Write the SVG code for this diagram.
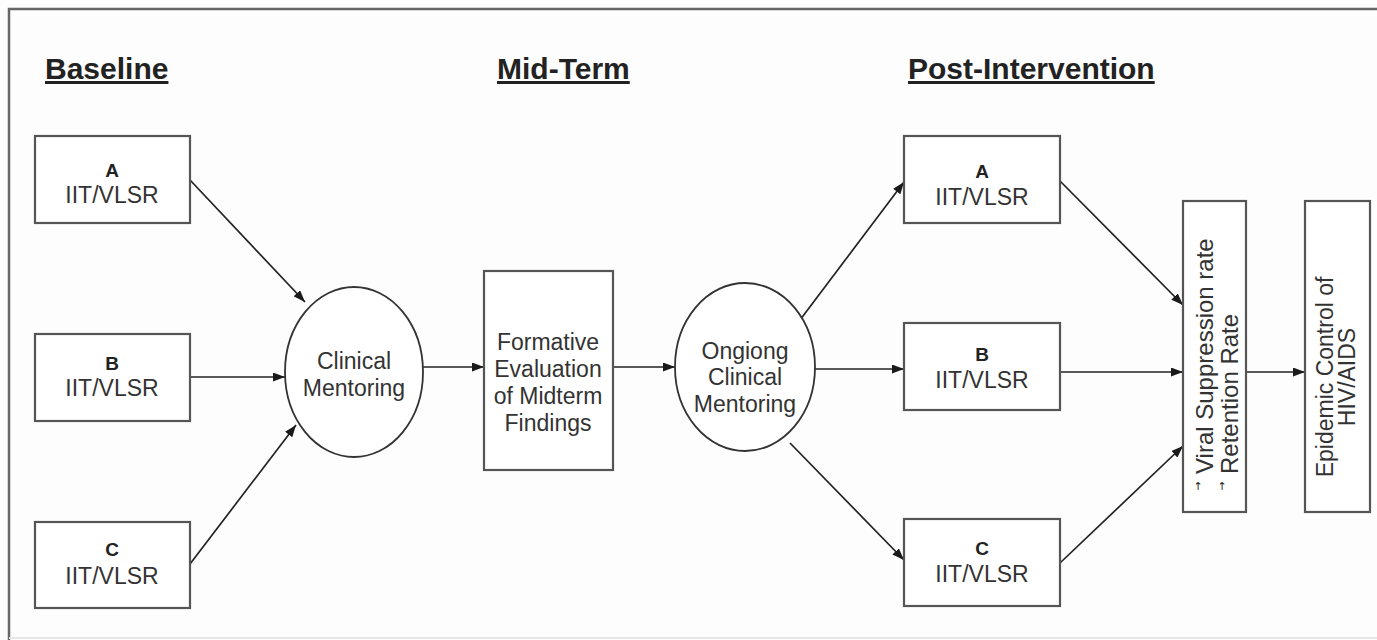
<svg xmlns="http://www.w3.org/2000/svg" width="1377" height="640" viewBox="0 0 1377 640">
  <defs>
    <marker id="arrow" viewBox="0 0 12 9" refX="12" refY="4.5" markerWidth="12" markerHeight="9" markerUnits="userSpaceOnUse" orient="auto">
      <path d="M0,0 L12,4.5 L0,9 Z" fill="#1a1a1a"/>
    </marker>
    <style>
      .box { fill: #fff; stroke: #555; stroke-width: 2.2; }
      .oval { fill: #fff; stroke: #333; stroke-width: 1.8; }
      .edge { stroke: #222; stroke-width: 1.7; fill: none; marker-end: url(#arrow); }
      .t { font-family: "Liberation Sans", Arial, sans-serif; font-size: 23px; fill: #333; text-anchor: middle; }
      .id { font-family: "Liberation Sans", Arial, sans-serif; font-size: 19px; font-weight: bold; fill: #222; text-anchor: middle; }
      .head { font-family: "Liberation Sans", Arial, sans-serif; font-size: 30px; font-weight: bold; fill: #222; text-decoration: underline; }
      .up { font-family: "DejaVu Sans", sans-serif; font-size: 11px; fill: #222; text-anchor: middle; }
    </style>
  </defs>

  <rect x="0" y="0" width="1377" height="640" fill="#fdfdfd"/>
  <!-- outer frame -->
  <path d="M9,640 V9 H1377" fill="none" stroke="#666" stroke-width="2.5"/>
  <line x1="9" y1="638" x2="1377" y2="638" stroke="#e6e6e6" stroke-width="2"/>

  <!-- phase headings -->
  <g id="headings">
    <text class="head" x="45" y="79">Baseline</text>
    <text class="head" x="497" y="79">Mid-Term</text>
    <text class="head" x="908" y="79">Post-Intervention</text>
  </g>

  <!-- connectors -->
  <g id="connectors">
    <line class="edge" x1="190" y1="180" x2="305" y2="302"/>
    <line class="edge" x1="190" y1="377" x2="285" y2="377"/>
    <line class="edge" x1="190" y1="564" x2="296" y2="425"/>
    <line class="edge" x1="423" y1="367" x2="484" y2="367"/>
    <line class="edge" x1="613" y1="367" x2="675" y2="367"/>
    <line class="edge" x1="800" y1="320" x2="904" y2="182"/>
    <line class="edge" x1="815" y1="369" x2="904" y2="369"/>
    <line class="edge" x1="790" y1="443" x2="904" y2="560"/>
    <line class="edge" x1="1060" y1="181" x2="1183" y2="305"/>
    <line class="edge" x1="1060" y1="372" x2="1183" y2="372"/>
    <line class="edge" x1="1060" y1="563" x2="1183" y2="446"/>
    <line class="edge" x1="1246" y1="372" x2="1305" y2="372"/>
  </g>

  <!-- baseline sites -->
  <g id="base-a">
    <rect class="box" x="35" y="136" width="155" height="87"/>
    <text class="id" x="112" y="177">A</text>
    <text class="t" x="112" y="203">IIT/VLSR</text>
  </g>
  <g id="base-b">
    <rect class="box" x="35" y="334" width="155" height="87"/>
    <text class="id" x="112" y="370">B</text>
    <text class="t" x="112" y="396">IIT/VLSR</text>
  </g>
  <g id="base-c">
    <rect class="box" x="35" y="522" width="155" height="86"/>
    <text class="id" x="112" y="556">C</text>
    <text class="t" x="112" y="584">IIT/VLSR</text>
  </g>

  <!-- clinical mentoring -->
  <g id="clinical-mentoring">
    <ellipse class="oval" cx="354" cy="372" rx="69" ry="85"/>
    <text class="t" x="354" y="369">Clinical</text>
    <text class="t" x="354" y="396">Mentoring</text>
  </g>

  <!-- formative evaluation -->
  <g id="formative-evaluation">
    <rect class="box" x="484" y="271" width="129" height="199"/>
    <text class="t" x="548" y="350">Formative</text>
    <text class="t" x="548" y="377">Evaluation</text>
    <text class="t" x="548" y="404">of Midterm</text>
    <text class="t" x="548" y="431">Findings</text>
  </g>

  <!-- ongoing mentoring -->
  <g id="ongoing-mentoring">
    <ellipse class="oval" cx="745" cy="367" rx="70" ry="84"/>
    <text class="t" x="745" y="359">Ongiong</text>
    <text class="t" x="745" y="385">Clinical</text>
    <text class="t" x="745" y="412">Mentoring</text>
  </g>

  <!-- post-intervention sites -->
  <g id="post-a">
    <rect class="box" x="904" y="136" width="156" height="87"/>
    <text class="id" x="982" y="178">A</text>
    <text class="t" x="982" y="205">IIT/VLSR</text>
  </g>
  <g id="post-b">
    <rect class="box" x="904" y="323" width="156" height="87"/>
    <text class="id" x="982" y="361">B</text>
    <text class="t" x="982" y="388">IIT/VLSR</text>
  </g>
  <g id="post-c">
    <rect class="box" x="904" y="519" width="156" height="87"/>
    <text class="id" x="982" y="555">C</text>
    <text class="t" x="982" y="582">IIT/VLSR</text>
  </g>

  <!-- outcome rates -->
  <g id="outcomes">
    <rect class="box" x="1183" y="201" width="63" height="311"/>
    <text class="t" style="font-size:24px;text-anchor:start" transform="translate(1213,474) rotate(-90)">Viral Suppression rate</text>
    <text class="t" style="font-size:24px;text-anchor:start" transform="translate(1238,474) rotate(-90)">Retention Rate</text>
    <text class="up" x="1198" y="490">↑</text>
    <text class="up" x="1222" y="490">↑</text>
  </g>

  <!-- epidemic control -->
  <g id="epidemic-control">
    <rect class="box" x="1305" y="201" width="65" height="311"/>
    <text class="t" transform="translate(1333,377) rotate(-90)">Epidemic Control of</text>
    <text class="t" transform="translate(1355,377) rotate(-90)">HIV/AIDS</text>
  </g>
</svg>
